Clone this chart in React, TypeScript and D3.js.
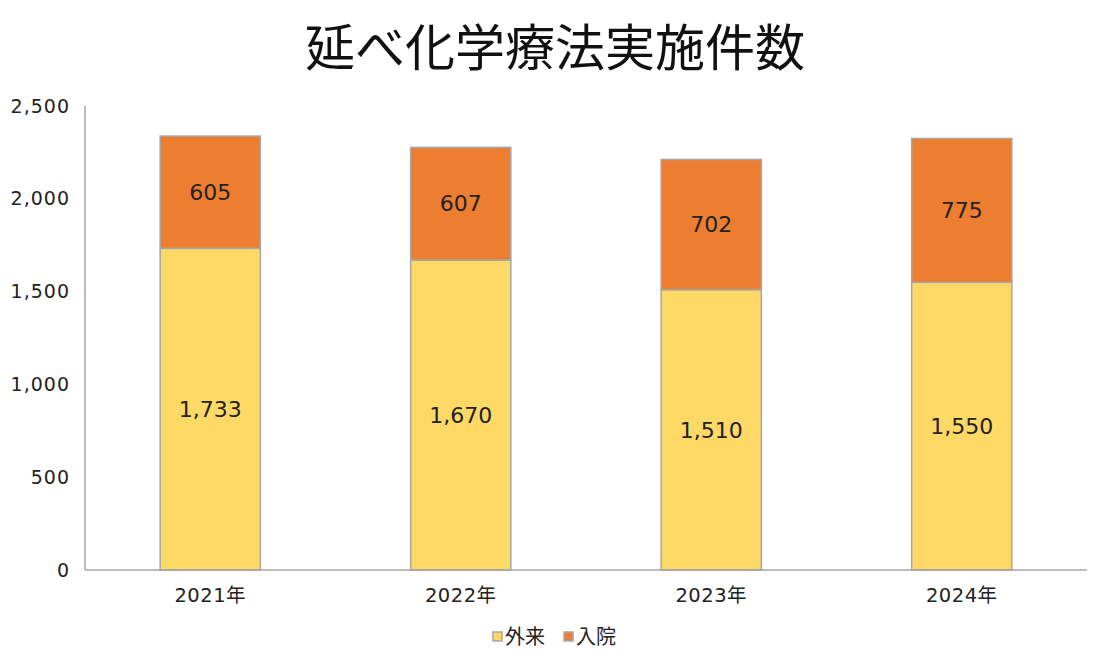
import React from "react";
import * as d3 from "d3";

const categories = ["2021年", "2022年", "2023年", "2024年"];
const outpatient = [1733, 1670, 1510, 1550];
const inpatient = [605, 607, 702, 775];
const seriesNames = ["外来", "入院"];
const yTicks = [0, 500, 1000, 1500, 2000, 2500];

const W = 1107, H = 661;
const left = 85, right = 1087, top = 106, bottom = 570;
const colors = ["#FFD966", "#ED7D31"];
const font = "'Noto Sans CJK JP', 'Noto Sans', sans-serif";
const numFont = "'DejaVu Sans', 'Noto Sans CJK JP', sans-serif";

export default function App() {
  const x = d3.scaleBand<string>().domain(categories).range([left, right]).paddingInner(0.6).paddingOuter(0.3);
  const y = d3.scaleLinear().domain([0, 2500]).range([bottom, top]);
  const fmt = d3.format(",");
  const rows = categories.map((c, i) => ({ c, a: outpatient[i], b: inpatient[i] }));
  const stacked = d3.stack<any>().keys(["a", "b"])(rows as any);
  const bw = x.bandwidth();
  return (
    <svg width={W} height={H} style={{ display: "block", position: "absolute", left: 0, top: 0, background: "#fff" }}>
      <text x={555} y={66} textAnchor="middle" fontFamily={font} fontSize={50} fill="#111">延べ化学療法実施件数</text>
      {yTicks.map(t => (
        <text key={t} x={70} y={y(t)} dy="0.35em" textAnchor="end" fontFamily={numFont} fontSize={19} letterSpacing={1} fill="#222">{fmt(t)}</text>
      ))}
      {stacked.map((s, si) => s.map((d, i) => {
        const y0 = y(d[0]), y1 = y(d[1]);
        const cx = x(categories[i])! + bw / 2;
        return (
          <g key={si + "-" + i}>
            <rect x={x(categories[i])} y={y1} width={bw} height={y0 - y1} fill={colors[si]} stroke="#A6A6A6" strokeWidth={1.5} />
            <text x={cx} y={(y0 + y1) / 2} dy="0.35em" textAnchor="middle" fontFamily={numFont} fontSize={22} fill="#222">{fmt(d[1] - d[0])}</text>
          </g>
        );
      }))}
      <line x1={left} x2={left} y1={top} y2={bottom} stroke="#A6A6A6" strokeWidth={1.5} />
      <line x1={left} x2={right} y1={bottom} y2={bottom} stroke="#A6A6A6" strokeWidth={1.5} />
      {categories.map(c => (
        <text key={c} x={x(c)! + bw / 2} y={595} dy="0.35em" textAnchor="middle" fontFamily={numFont} fontSize={19.5} letterSpacing={0.5} fill="#222">{c}</text>
      ))}
      {seriesNames.map((n, i) => {
        const lx = 493 + i * 71;
        return (
          <g key={n}>
            <rect x={lx} y={632} width={9} height={9} fill={colors[i]} stroke="#A6A6A6" strokeWidth={1.5} />
            <text x={lx + 12} y={637} dy="0.35em" fontFamily={font} fontSize={20} fill="#222">{n}</text>
          </g>
        );
      })}
    </svg>
  );
}
